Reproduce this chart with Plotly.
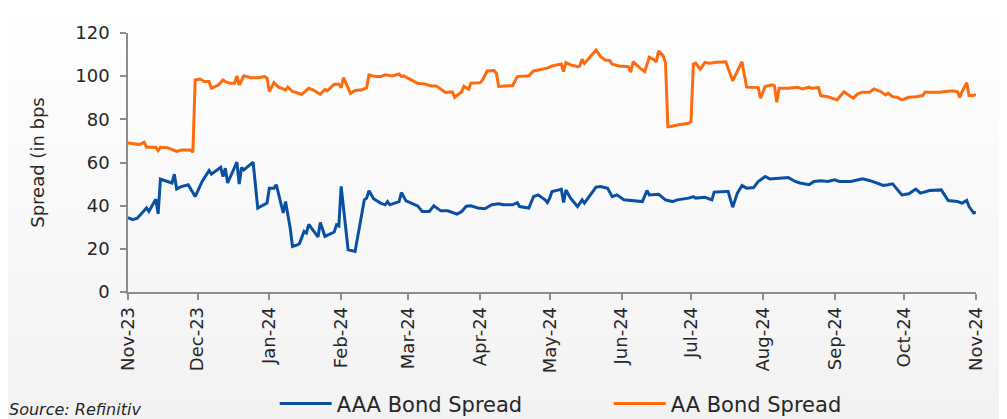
import plotly.graph_objects as go

# AA bond spread (bps)
aa_dates = [
    "2023-11-01", "2023-11-04", "2023-11-06", "2023-11-08", "2023-11-09", "2023-11-13",
    "2023-11-14", "2023-11-15", "2023-11-18", "2023-11-22", "2023-11-24", "2023-11-28",
    "2023-11-29", "2023-11-30", "2023-12-02", "2023-12-04", "2023-12-06", "2023-12-07",
    "2023-12-10", "2023-12-12", "2023-12-13", "2023-12-15", "2023-12-17", "2023-12-18",
    "2023-12-19", "2023-12-21", "2023-12-24", "2023-12-27", "2023-12-30", "2023-12-31",
    "2024-01-01", "2024-01-03", "2024-01-05", "2024-01-08", "2024-01-09", "2024-01-11",
    "2024-01-13", "2024-01-15", "2024-01-18", "2024-01-20", "2024-01-23", "2024-01-25",
    "2024-01-26", "2024-01-29", "2024-01-31", "2024-02-01", "2024-02-02", "2024-02-03",
    "2024-02-05", "2024-02-07", "2024-02-10", "2024-02-12", "2024-02-13", "2024-02-16",
    "2024-02-18", "2024-02-20", "2024-02-23", "2024-02-26", "2024-02-27", "2024-02-28",
    "2024-03-02", "2024-03-05", "2024-03-08", "2024-03-11", "2024-03-13", "2024-03-15",
    "2024-03-17", "2024-03-20", "2024-03-21", "2024-03-24", "2024-03-25", "2024-03-27",
    "2024-03-28", "2024-04-01", "2024-04-02", "2024-04-04", "2024-04-07", "2024-04-08",
    "2024-04-09", "2024-04-12", "2024-04-15", "2024-04-17", "2024-04-20", "2024-04-22",
    "2024-04-24", "2024-04-27", "2024-04-30", "2024-05-02", "2024-05-06", "2024-05-07",
    "2024-05-08", "2024-05-10", "2024-05-13", "2024-05-14", "2024-05-15", "2024-05-16",
    "2024-05-18", "2024-05-21", "2024-05-23", "2024-05-25", "2024-05-27", "2024-05-28",
    "2024-05-31", "2024-06-04", "2024-06-05", "2024-06-06", "2024-06-09", "2024-06-11",
    "2024-06-13", "2024-06-15", "2024-06-16", "2024-06-17", "2024-06-19", "2024-06-20",
    "2024-06-21", "2024-06-22", "2024-06-25", "2024-06-30", "2024-07-01", "2024-07-02",
    "2024-07-03", "2024-07-05", "2024-07-07", "2024-07-09", "2024-07-12", "2024-07-16",
    "2024-07-19", "2024-07-20", "2024-07-23", "2024-07-25", "2024-07-27", "2024-07-30",
    "2024-07-31", "2024-08-02", "2024-08-05", "2024-08-06", "2024-08-07", "2024-08-08",
    "2024-08-12", "2024-08-16", "2024-08-18", "2024-08-21", "2024-08-22", "2024-08-25",
    "2024-08-26", "2024-08-29", "2024-09-02", "2024-09-05", "2024-09-09", "2024-09-11",
    "2024-09-13", "2024-09-16", "2024-09-18", "2024-09-21", "2024-09-23", "2024-09-24",
    "2024-09-26", "2024-09-28", "2024-09-30", "2024-10-03", "2024-10-06", "2024-10-09",
    "2024-10-10", "2024-10-16", "2024-10-22", "2024-10-24", "2024-10-25", "2024-10-26",
    "2024-10-28", "2024-10-29", "2024-10-31", "2024-11-01",
]
aa_spread = [
    69.0, 68.5, 68.3, 69.4, 67.1, 67.1,
    65.5, 67.1, 66.9, 65.1, 65.8, 65.8,
    64.8, 98.2, 98.7, 97.5, 97.5, 94.4,
    95.9, 98.2, 97.5, 96.7, 96.7, 100.1,
    95.9, 100.2, 99.3, 99.3, 99.8, 99.1,
    92.9, 97.0, 94.9, 93.6, 94.9, 92.9,
    92.1, 91.6, 94.4, 93.6, 91.6, 93.9,
    93.2, 96.3, 96.3, 94.7, 99.3, 96.7,
    92.1, 93.4, 93.7, 94.7, 100.6, 99.8,
    99.8, 100.6, 100.1, 101.0, 99.8, 100.1,
    98.2, 96.7, 96.4, 95.5, 95.5, 93.9,
    92.4, 92.7, 90.2, 92.8, 95.3, 93.9,
    96.7, 97.0, 98.2, 102.4, 102.6, 101.3,
    95.2, 95.5, 95.6, 99.8, 100.2, 100.2,
    102.4, 102.9, 103.7, 104.7, 105.6, 102.1,
    106.3, 105.2, 104.4, 104.7, 107.8, 105.9,
    108.3, 112.1, 109.0, 107.5, 107.2, 105.5,
    104.7, 104.4, 101.8, 106.7, 103.7, 102.1,
    108.8, 107.6, 106.6, 111.7, 109.4, 106.0,
    76.6, 76.6, 77.4, 78.2, 79.0, 105.5,
    106.0, 103.2, 106.4, 106.0, 106.4, 106.7,
    97.8, 100.1, 106.7, 94.9, 94.7, 94.7,
    89.8, 95.2, 96.0, 95.5, 87.9, 94.4,
    94.4, 94.9, 94.1, 94.9, 94.4, 94.7,
    91.0, 90.5, 89.0, 92.8, 89.8, 91.8,
    92.6, 92.6, 94.1, 92.8, 91.3, 92.1,
    90.5, 90.2, 89.0, 90.2, 90.5, 91.0,
    92.6, 92.6, 93.2, 92.8, 90.2, 92.8,
    97.0, 91.0, 91.0, 91.6,
]

# AAA bond spread (bps)
aaa_dates = [
    "2023-11-01", "2023-11-03", "2023-11-05", "2023-11-07", "2023-11-09", "2023-11-10",
    "2023-11-13", "2023-11-14", "2023-11-15", "2023-11-18", "2023-11-20", "2023-11-21",
    "2023-11-22", "2023-11-24", "2023-11-27", "2023-11-30", "2023-12-03", "2023-12-06",
    "2023-12-07", "2023-12-11", "2023-12-12", "2023-12-13", "2023-12-14", "2023-12-18",
    "2023-12-19", "2023-12-20", "2023-12-21", "2023-12-25", "2023-12-27", "2023-12-31",
    "2024-01-01", "2024-01-03", "2024-01-04", "2024-01-07", "2024-01-08", "2024-01-10",
    "2024-01-11", "2024-01-13", "2024-01-14", "2024-01-16", "2024-01-17", "2024-01-18",
    "2024-01-22", "2024-01-23", "2024-01-25", "2024-01-29", "2024-01-30", "2024-01-31",
    "2024-02-01", "2024-02-04", "2024-02-07", "2024-02-11", "2024-02-12", "2024-02-13",
    "2024-02-15", "2024-02-18", "2024-02-20", "2024-02-21", "2024-02-22", "2024-02-26",
    "2024-02-27", "2024-02-29", "2024-03-05", "2024-03-07", "2024-03-10", "2024-03-12",
    "2024-03-15", "2024-03-18", "2024-03-22", "2024-03-24", "2024-03-26", "2024-03-28",
    "2024-03-31", "2024-04-03", "2024-04-06", "2024-04-09", "2024-04-11", "2024-04-15",
    "2024-04-17", "2024-04-18", "2024-04-22", "2024-04-24", "2024-04-26", "2024-04-29",
    "2024-04-30", "2024-05-01", "2024-05-02", "2024-05-05", "2024-05-06", "2024-05-07",
    "2024-05-08", "2024-05-10", "2024-05-13", "2024-05-15", "2024-05-16", "2024-05-18",
    "2024-05-21", "2024-05-23", "2024-05-26", "2024-05-28", "2024-05-30", "2024-06-02",
    "2024-06-05", "2024-06-08", "2024-06-10", "2024-06-12", "2024-06-13", "2024-06-17",
    "2024-06-20", "2024-06-23", "2024-06-25", "2024-06-30", "2024-07-02", "2024-07-03",
    "2024-07-07", "2024-07-10", "2024-07-11", "2024-07-16", "2024-07-17", "2024-07-19",
    "2024-07-21", "2024-07-23", "2024-07-25", "2024-07-28", "2024-07-30", "2024-08-02",
    "2024-08-04", "2024-08-08", "2024-08-12", "2024-08-15", "2024-08-17", "2024-08-21",
    "2024-08-23", "2024-08-26", "2024-08-29", "2024-09-01", "2024-09-03", "2024-09-08",
    "2024-09-13", "2024-09-16", "2024-09-19", "2024-09-22", "2024-09-24", "2024-09-26",
    "2024-09-30", "2024-10-03", "2024-10-06", "2024-10-08", "2024-10-12", "2024-10-16",
    "2024-10-17", "2024-10-20", "2024-10-24", "2024-10-26", "2024-10-28", "2024-10-29",
    "2024-10-31", "2024-11-01",
]
aaa_spread = [
    34.5, 33.5, 34.2, 36.6, 38.9, 37.3,
    43.0, 36.2, 52.3, 51.2, 50.5, 54.6,
    47.7, 48.8, 49.7, 44.2, 51.2, 56.3,
    54.6, 57.8, 53.5, 57.4, 50.5, 60.2,
    50.0, 57.7, 56.6, 60.2, 38.9, 41.2,
    48.1, 48.1, 49.7, 36.6, 41.9, 29.6,
    21.1, 21.8, 22.4, 28.1, 27.3, 31.3,
    25.5, 32.2, 25.8, 27.8, 31.1, 30.6,
    48.9, 19.6, 18.8, 42.7, 43.5, 46.9,
    43.2, 41.2, 40.4, 41.9, 40.4, 41.9,
    46.1, 42.2, 39.9, 37.3, 37.3, 39.9,
    37.6, 37.6, 36.1, 37.3, 39.7, 39.9,
    38.9, 38.6, 40.4, 40.9, 40.4, 40.4,
    41.4, 39.6, 38.9, 44.2, 45.0, 42.7,
    41.4, 43.5, 46.6, 47.3, 47.6, 41.5,
    47.3, 43.5, 39.6, 42.7, 41.2, 44.2,
    48.6, 48.9, 48.1, 44.2, 45.0, 42.7,
    42.4, 42.0, 41.9, 47.0, 45.0, 45.3,
    42.7, 41.9, 42.7, 43.5, 44.2, 43.5,
    43.9, 42.7, 46.3, 46.6, 46.6, 39.3,
    45.8, 49.3, 48.1, 48.4, 51.2, 53.5,
    52.4, 52.7, 53.0, 51.2, 50.5, 49.7,
    51.2, 51.5, 51.2, 52.0, 51.2, 51.2,
    52.4, 51.7, 50.5, 49.4, 49.7, 50.1,
    45.0, 45.5, 47.7, 45.8, 47.0, 47.0,
    47.3, 42.4, 41.9, 41.2, 42.4, 39.6,
    36.6, 37.0,
]

BLUE = "#0a50a2"
ORANGE = "#ff6a0d"
AXIS_GREY = "#8c8c8c"
FONT = "DejaVu Sans"

fig = go.Figure()
fig.add_trace(go.Scatter(
    x=aaa_dates, y=aaa_spread, mode="lines", name="AAA Bond Spread",
    line=dict(color=BLUE, width=3),
))
fig.add_trace(go.Scatter(
    x=aa_dates, y=aa_spread, mode="lines", name="AA Bond Spread",
    line=dict(color=ORANGE, width=3),
))

# soft white-to-grey page gradient, built from thin bands
bands = 40
top, bottom = 1.13, -0.50
shapes = []
for i in range(bands):
    y0 = top - (top - bottom) * i / bands
    y1 = top - (top - bottom) * (i + 1) / bands
    g = round(255 - 13 * (i + 0.5) / bands)
    shapes.append(dict(
        type="rect", xref="paper", yref="paper", x0=-0.2, x1=1.1, y0=y1, y1=y0,
        fillcolor=f"rgb({g},{g},{g})", line=dict(width=0), layer="below",
    ))

# the page body adds an 8px offset, so margins are trimmed to compensate
fig.update_layout(
    width=1007, height=419,
    margin=dict(l=120, r=39, t=25, b=135, autoexpand=False),
    paper_bgcolor="white",
    plot_bgcolor="rgba(0,0,0,0)",
    font=dict(family=FONT, size=18, color="#262626"),
    shapes=shapes,
    showlegend=True,
    legend=dict(
        orientation="h", x=0.173, xanchor="left", y=-0.432, yanchor="middle",
        font=dict(size=21, color="#262626"), bgcolor="rgba(0,0,0,0)",
        entrywidth=267, entrywidthmode="pixels", itemwidth=52,
    ),
    annotations=[dict(
        text="<i>Source: Refinitiv</i>", xref="paper", yref="paper",
        x=-0.143, y=-0.408, xanchor="left", yanchor="top", showarrow=False,
        font=dict(size=16, color="#262626"),
    )],
)

fig.update_xaxes(
    type="date", range=["2023-11-01", "2024-11-01"],
    tick0="2023-11-01", dtick="M1", tickformat="%b-%y", tickangle=-90,
    showgrid=False, zeroline=False, automargin=False,
    showline=True, linecolor=AXIS_GREY, linewidth=1.5,
    ticks="outside", ticklen=6, tickcolor=AXIS_GREY, tickwidth=1.5,
    ticklabelstandoff=0,
)
fig.update_yaxes(
    range=[0, 120], dtick=20,
    showgrid=False, zeroline=False, automargin=False,
    showline=True, linecolor=AXIS_GREY, linewidth=1.5,
    ticks="outside", ticklen=6, tickcolor=AXIS_GREY, tickwidth=1.5,
    ticklabelstandoff=7,
    title=dict(text="Spread (in bps", standoff=26, font=dict(size=18)),
)

fig.write_html("out.html")
